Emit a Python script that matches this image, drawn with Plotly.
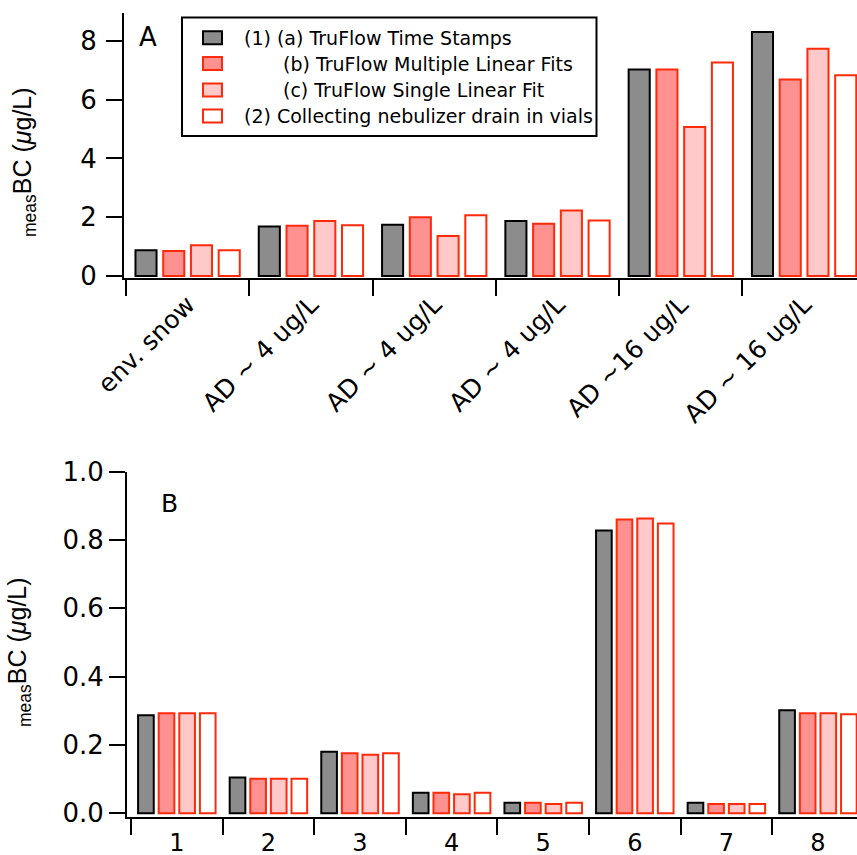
import plotly.graph_objects as go

# ---- data -------------------------------------------------------------
series_names = [
    "(1) (a) TruFlow Time Stamps",
    "(b) TruFlow Multiple Linear Fits",
    "(c) TruFlow Single Linear Fit",
    "(2) Collecting nebulizer drain in vials",
]

labels_a = ["env. snow", "AD ~ 4 ug/L", "AD ~ 4 ug/L", "AD ~ 4 ug/L",
            "AD ~16 ug/L", "AD ~ 16 ug/L"]
labels_b = ["1", "2", "3", "4", "5", "6", "7", "8"]

# panel A values (µg/L), one list per method
a_timestamps = [0.88, 1.68, 1.74, 1.87, 7.02, 8.30]
a_multi_fit = [0.85, 1.71, 2.00, 1.78, 7.02, 6.68]
a_single_fit = [1.05, 1.87, 1.36, 2.23, 5.07, 7.73]
a_drain_vials = [0.88, 1.73, 2.07, 1.89, 7.26, 6.83]

# panel B values (µg/L)
b_timestamps = [0.287, 0.105, 0.180, 0.060, 0.031, 0.828, 0.031, 0.302]
b_multi_fit = [0.293, 0.101, 0.176, 0.060, 0.031, 0.860, 0.027, 0.293]
b_single_fit = [0.293, 0.101, 0.171, 0.056, 0.027, 0.863, 0.027, 0.293]
b_drain_vials = [0.293, 0.101, 0.176, 0.060, 0.031, 0.848, 0.027, 0.290]

yticks_a = [0, 2, 4, 6, 8]
yticks_b = [0.0, 0.2, 0.4, 0.6, 0.8, 1.0]

# ---- styling ------------------------------------------------------------
W, H = 857, 855
RED = "#ff2a0a"
fills = ["#8c8c8c", "#ff9191", "#ffc9c9", "#ffffff"]
edges = ["#000000", RED, RED, RED]
FONT = "DejaVu Sans"
TITLE_FONT = "Liberation Sans"


def px_x(p):
    return p / W


def px_y(p):
    return 1 - p / H


fig = go.Figure()

panel_a = [a_timestamps, a_multi_fit, a_single_fit, a_drain_vials]
panel_b = [b_timestamps, b_multi_fit, b_single_fit, b_drain_vials]

for i, vals in enumerate(panel_a):
    fig.add_trace(go.Bar(
        x=list(range(len(labels_a))), y=vals, name=series_names[i],
        marker=dict(color=fills[i], line=dict(color=edges[i], width=2)),
        xaxis="x", yaxis="y", offsetgroup=str(i), showlegend=False,
    ))

for i, vals in enumerate(panel_b):
    fig.add_trace(go.Bar(
        x=list(range(len(labels_b))), y=vals, name=series_names[i],
        marker=dict(color=fills[i], line=dict(color=edges[i], width=2)),
        xaxis="x2", yaxis="y2", offsetgroup=str(i), showlegend=False,
    ))

axis_common = dict(
    showline=True, linecolor="black", linewidth=2,
    showgrid=False, zeroline=False, mirror=False, automargin=False,
    tickfont=dict(family=FONT, size=26, color="black"),
)

fig.update_layout(
    template="none",
    width=W, height=H,
    margin=dict(l=0, r=0, t=0, b=0, pad=0, autoexpand=False),
    paper_bgcolor="white", plot_bgcolor="white",
    barmode="group", bargap=0.1, bargroupgap=0.24,
    showlegend=False,
    xaxis=dict(
        axis_common,
        domain=[px_x(124), 1.0], anchor="y",
        range=[-0.516, 5.429],
        tickmode="array", tickvals=list(range(len(labels_a))), ticktext=labels_a,
        ticks="", ticklabelstandoff=0,
        tickangle=-45, tickfont=dict(family=FONT, size=25, color="black"),
        minor=dict(tickmode="array",
                   tickvals=[k - 0.5 for k in range(len(labels_a))],
                   ticks="outside", ticklen=16, tickwidth=2, tickcolor="black"),
    ),
    yaxis=dict(
        axis_common,
        domain=[px_y(278), px_y(13)], anchor="x",
        range=[-0.068, 8.946],
        tickmode="array", tickvals=yticks_a,
        ticks="outside", ticklen=16, tickwidth=2, tickcolor="black",
        ticklabelstandoff=4,
    ),
    xaxis2=dict(
        axis_common,
        domain=[px_x(127), 1.0], anchor="y2",
        range=[-0.544, 7.426],
        tickmode="array", tickvals=list(range(len(labels_b))), ticktext=labels_b,
        ticks="outside", ticklen=3, tickcolor="rgba(0,0,0,0)",
        tickfont=dict(family=FONT, size=24, color="black"),
        minor=dict(tickmode="array",
                   tickvals=[k - 0.5 for k in range(len(labels_b))],
                   ticks="outside", ticklen=16, tickwidth=2, tickcolor="black"),
    ),
    yaxis2=dict(
        axis_common,
        domain=[px_y(816.7), px_y(471.7)], anchor="x2",
        range=[-0.01, 1.0],
        tickmode="array", tickvals=yticks_b, tickformat=".1f",
        ticks="outside", ticklen=16, tickwidth=2, tickcolor="black",
    ),
)

ytitle = "<sub>meas</sub>BC (<i>μ</i>g/L)"
annotations = [
    dict(text=ytitle, x=px_x(24), y=px_y(162), xref="paper", yref="paper",
         textangle=-90, showarrow=False, xanchor="center", yanchor="middle",
         font=dict(family=TITLE_FONT, size=25, color="black")),
    dict(text=ytitle, x=px_x(19), y=px_y(652), xref="paper", yref="paper",
         textangle=-90, showarrow=False, xanchor="center", yanchor="middle",
         font=dict(family=TITLE_FONT, size=25, color="black")),
    dict(text="A", x=px_x(137), y=px_y(37), xref="paper", yref="paper",
         showarrow=False, xanchor="left", yanchor="middle",
         font=dict(family=FONT, size=26, color="black")),
    dict(text="B", x=px_x(159), y=px_y(504), xref="paper", yref="paper",
         showarrow=False, xanchor="left", yanchor="middle",
         font=dict(family=FONT, size=25, color="black")),
]

# legend frame, swatches and entries
shapes = [dict(type="rect", xref="paper", yref="paper",
               x0=px_x(182), x1=px_x(596.5), y0=px_y(136), y1=px_y(17.5),
               line=dict(color="black", width=2), fillcolor="white", layer="above")]
row_y = [37.7, 63.5, 90, 116]
text_x = [242, 281, 281, 242]
for i in range(4):
    shapes.append(dict(type="rect", xref="paper", yref="paper",
                       x0=px_x(203), x1=px_x(222), y0=px_y(row_y[i] + 6.5),
                       y1=px_y(row_y[i] - 6.5),
                       line=dict(color=edges[i], width=2), fillcolor=fills[i],
                       layer="above"))
    annotations.append(dict(text=series_names[i], x=px_x(text_x[i]), y=px_y(row_y[i]),
                            xref="paper", yref="paper", showarrow=False,
                            xanchor="left", yanchor="middle",
                            font=dict(family=FONT, size=19, color="black")))

fig.update_layout(shapes=shapes, annotations=annotations)

fig.write_html("out.html")
